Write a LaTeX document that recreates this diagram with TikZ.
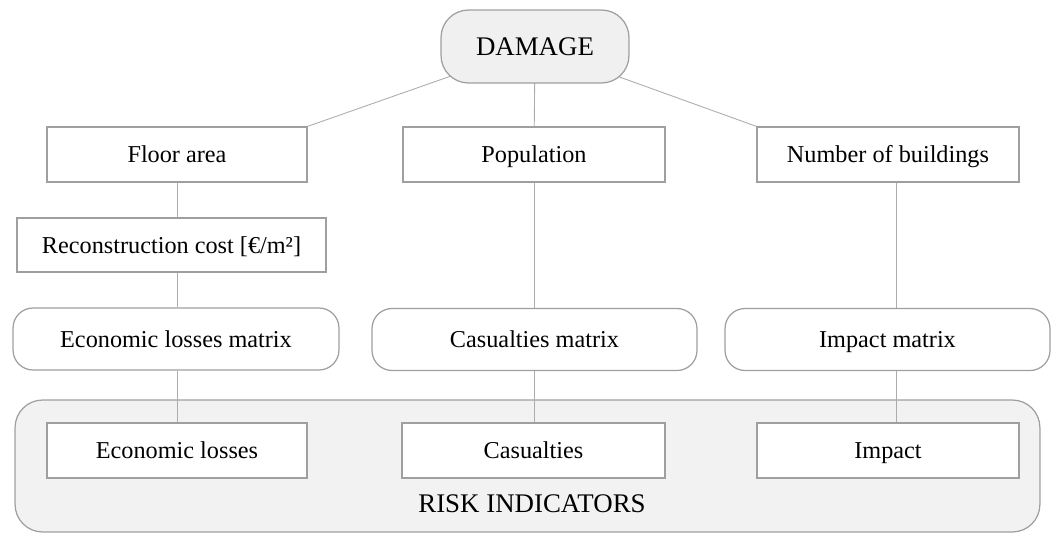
\documentclass[tikz,border=0pt]{standalone}
\usepackage{fontspec}
\setmainfont{Liberation Serif}
\usetikzlibrary{backgrounds}

\tikzset{
  box/.style={draw=gray!75, line width=0.7pt, fill=white, minimum height=1.1cm,
    inner sep=0pt, text height=9.2pt, text depth=0pt,
    font=\fontsize{13.8}{16}\selectfont},
  roundbox/.style={box, rounded corners=0.4cm, minimum height=1.24cm},
  panel/.style={draw=gray!75, line width=0.7pt, fill=gray!10, rounded corners=0.55cm,
    minimum width=20.5cm, minimum height=2.64cm},
  conn/.style={draw=gray!65, line width=0.5pt},
  big/.style={font=\fontsize{15.3}{18}\selectfont, inner sep=0pt,
    text height=10.1pt, text depth=0pt},
}

\begin{document}
\begin{tikzpicture}[x=0.02cm, y=-0.02cm]
\useasboundingbox (0,0) rectangle (1052,534);

% top
\node[box, big, rounded corners=0.55cm, fill=gray!12, minimum width=3.76cm,
  minimum height=1.46cm] (damage) at (535,46.5) {DAMAGE};

% exposure
\node[box, minimum width=5.2cm]  (floor)  at (177,154.5) {Floor area};
\node[box, minimum width=5.24cm] (pop)    at (534,154.5) {Population};
\node[box, minimum width=5.24cm] (nbuild) at (888,154.5) {Number of buildings};
\node[box, minimum width=6.18cm, minimum height=1.08cm] (recon) at (171.5,245)
  {Reconstruction cost [€/m²]};

% matrices
\node[roundbox, minimum width=6.52cm] (ecomat) at (176,339)   {Economic losses matrix};
\node[roundbox, minimum width=6.5cm]  (casmat) at (534.5,339.5) {Casualties matrix};
\node[roundbox, minimum width=6.5cm]  (impmat) at (887.5,339.5) {Impact matrix};

% indicators
\node[box, minimum width=5.2cm]  (ecol) at (177,450.5)   {Economic losses};
\node[box, minimum width=5.26cm] (cas)  at (533.5,450.5) {Casualties};
\node[box, minimum width=5.24cm] (imp)  at (888,450.5)   {Impact};
\node[big] (risklabel) at (532,503.5) {RISK INDICATORS};

\begin{scope}[on background layer]
  \node[panel] (riskpanel) at (527.5,466) {};
  % lines start at the centre of DAMAGE, its fill covers the inner part
  \draw[conn] (damage.center) -- (floor.north east);
  \draw[conn] (damage.center) -- (pop);
  \draw[conn] (damage.center) -- (nbuild.north west);
  \draw[conn] (floor.south) -- (floor.south |- recon.north);
  \draw[conn] (floor.south |- recon.south) -- (floor.south |- ecomat.north);
  \draw[conn] (floor.south |- ecomat.south) -- (floor.south |- ecol.north);
  \draw[conn] (pop) -- (pop |- casmat.north);
  \draw[conn] (pop |- casmat.south) -- (pop |- cas.north);
  \draw[conn] ([xshift=0.16cm]nbuild.south) -- ([xshift=0.16cm]nbuild.south |- impmat.north);
  \draw[conn] ([xshift=0.16cm]nbuild.south |- impmat.south) -- ([xshift=0.16cm]nbuild.south |- imp.north);
\end{scope}
\end{tikzpicture}
\end{document}
